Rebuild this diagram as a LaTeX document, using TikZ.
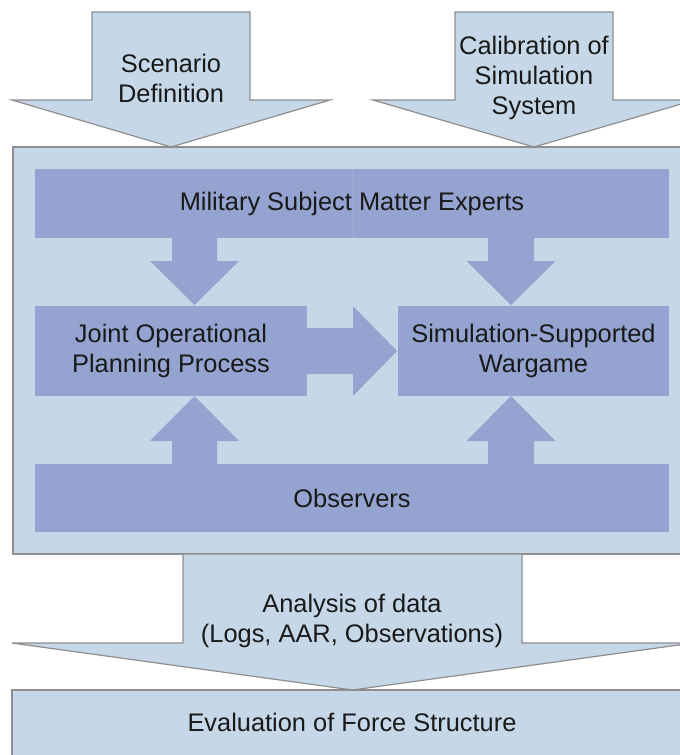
\documentclass[tikz,border=0pt]{standalone}
\usepackage{fontspec}
\setmainfont{Liberation Sans}
\definecolor{paleblue}{HTML}{C6D8E8}
\definecolor{slateblue}{HTML}{94A3D0}
\definecolor{rimgrey}{HTML}{8E8E8E}

\newcommand{\flowdown}[7]{% vertical block arrow on axis x=#1: shaft from #2 to #3,
  % head from #3 to the tip #4, half widths #5 (shaft) and #6 (head), style #7
  \path[#7] ({#1-#5},#2) -- ({#1+#5},#2) -- ({#1+#5},#3) -- ({#1+#6},#3)
    -- (#1,#4) -- ({#1-#6},#3) -- ({#1-#5},#3) -- cycle;
}
\newcommand{\flowright}[7]{% horizontal block arrow on axis y=#1, same argument order
  \path[#7] (#2,{#1-#5}) -- (#3,{#1-#5}) -- (#3,{#1-#6}) -- (#4,#1)
    -- (#3,{#1+#6}) -- (#3,{#1+#5}) -- (#2,{#1+#5}) -- cycle;
}

\tikzset{
  shell/.style={fill=paleblue, draw=rimgrey, line width=1.2pt, line join=miter},
  inner/.style={fill=slateblue},
  txt/.style={align=center, text=black!90, font=\fontsize{25.4}{30}\selectfont},
  stage/.style={inner, txt, inner sep=0pt},
}

\begin{document}
\begin{tikzpicture}[x=1pt,y=-1pt]
  \useasboundingbox (0,0) rectangle (680,755);
  \clip (0,0) rectangle (680,755);

  % inputs from above
  \flowdown{171}{12}{100}{147}{79}{159}{shell}
  \flowdown{534}{12}{100}{147}{79}{161}{shell}
  \node[txt] (scen) at (171,78) {Scenario\\Definition};
  \node[txt] (calib) at (534,78) {Calibration of\\Simulation\\System};

  % the exercise frame
  \draw[shell] (13,147) rectangle (692,554);
  \node[stage, minimum width=634pt, minimum height=69pt] (sme) at (352,203.5) {Military Subject Matter Experts};
  \draw[slateblue!85!white, line width=0.6pt] (353,169) -- (353,238);
  \node[stage, minimum width=272pt, minimum height=90pt] (jopp) at (171,351) {Joint Operational\\Planning Process};
  \node[stage, minimum width=271pt, minimum height=90pt] (ssw) at (533.5,351) {Simulation-Supported\\Wargame};
  \node[stage, minimum width=634pt, minimum height=68pt] (obs) at (352,498) {Observers};

  \flowdown{194.5}{238}{261}{305}{22.5}{44.5}{inner}
  \flowdown{511}{238}{261}{305}{23}{44.5}{inner}
  \flowdown{194.5}{464}{441}{396}{22.5}{44.5}{inner}
  \flowdown{511}{464}{441}{396}{23}{44.5}{inner}
  \flowright{351}{307}{353}{397}{23}{45}{inner}

  % results
  \flowdown{352.5}{554}{643}{690}{169.5}{340.5}{shell}
  \node[txt] (anal) at (352,621) {Analysis of data\\(Logs, AAR, Observations)};
  \draw[shell] (12,690) rectangle (692,770);
  \node[txt] (eval) at (352,722) {Evaluation of Force Structure};
\end{tikzpicture}
\end{document}
